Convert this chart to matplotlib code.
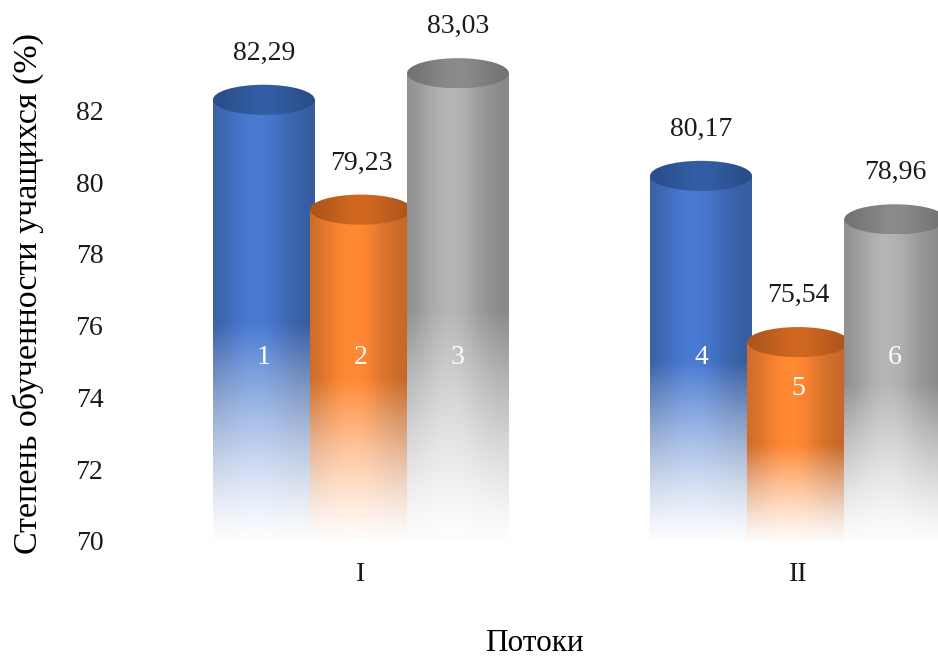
import numpy as np
import matplotlib
matplotlib.use("Agg")
import matplotlib.pyplot as plt
from matplotlib.patches import Ellipse
from matplotlib.colors import to_rgb

# data
groups = ["I", "II"]
values = [[82.29, 79.23, 83.03], [80.17, 75.54, 78.96]]
bar_ids = [["1", "2", "3"], ["4", "5", "6"]]
body_colors = ["#4472C4", "#F07F30", "#A8A8A8"]
top_colors = ["#2E5596", "#BD5E1E", "#7E7E7E"]
y_ticks = [70, 72, 74, 76, 78, 80, 82]

plt.rcParams["font.family"] = ["Liberation Serif", "DejaVu Serif"]

BASE = 70.0
bar_w = 0.233          # bar width in group units
step = 0.222           # spacing between bar centers
ell_h = 0.84           # height of the top face ellipse (data units)

fig = plt.figure(figsize=(9.38, 6.59), dpi=100)
ax = fig.add_axes([120 / 938, 118 / 659, 818 / 938, 541 / 659])
ax.set_xlim(-0.551, 1.320)
ax.set_ylim(BASE, 85.07)


def shade(u):
    # horizontal cylinder shading: darker edges, highlight slightly left of center
    return 0.80 + 0.28 * np.exp(-((u - 0.42) / 0.34) ** 2)


nx, ny = 120, 240
u = np.linspace(0, 1, nx)
t = np.linspace(0, 1, ny)[:, None]

z = 2
for gi, grp in enumerate(groups):
    for bi, v in enumerate(values[gi]):
        xc = gi + (bi - 1) * step
        x0, x1 = xc - bar_w / 2, xc + bar_w / 2
        base = np.array(to_rgb(body_colors[bi]))
        row = np.clip(base[None, :] * shade(u)[:, None], 0, 1)          # nx x 3
        a = np.clip(t / 0.5, 0, 1) ** 1.3                                # fade to white at bottom
        img = a[:, :, None] * row[None, :, :] + (1 - a[:, :, None]) * 1.0
        ax.imshow(img, extent=[x0, x1, BASE - 0.2, v], origin="lower",
                  aspect="auto", interpolation="bilinear", zorder=z)

        # top face
        tc = np.array(to_rgb(top_colors[bi]))
        trow = np.clip(tc[None, :] * (0.88 + 0.22 * np.exp(-((u - 0.5) / 0.35) ** 2))[:, None], 0, 1)
        timg = np.repeat(trow[None, :, :], 10, axis=0)
        ell = Ellipse((xc, v), bar_w, ell_h, facecolor="none", edgecolor="none",
                      transform=ax.transData, zorder=z + 1)
        ax.add_patch(ell)
        im = ax.imshow(timg, extent=[x0, x1, v - ell_h / 2, v + ell_h / 2],
                       origin="lower", aspect="auto", interpolation="bilinear",
                       zorder=z + 1)
        im.set_clip_path(ell)

        # value label above, id label inside
        ax.text(xc, v + 1.3, f"{v:.2f}".replace(".", ","), ha="center", va="center",
                fontsize=20, color="#1a1a1a", zorder=20)
        ax.text(xc, min(75.1, v - 1.3), bar_ids[gi][bi], ha="center", va="center",
                fontsize=20, color="white", zorder=20)
        z += 2

ax.set_xticks(range(len(groups)), groups)
ax.set_yticks(y_ticks)
ax.tick_params(axis="both", length=0, labelsize=20, colors="#1a1a1a")
ax.tick_params(axis="y", pad=12)
ax.tick_params(axis="x", pad=15)
for s in ax.spines.values():
    s.set_visible(False)

ax.set_ylabel("Степень обученности учащихся (%)", fontsize=24.5, color="black")
ax.yaxis.set_label_coords(-0.093, 0.457)
ax.set_xlabel("Потоки", fontsize=22.5, color="black")
ax.xaxis.set_label_coords(0.507, -0.19)
ax.xaxis.label.set_va("center")

fig.savefig("out.png", dpi=100)
